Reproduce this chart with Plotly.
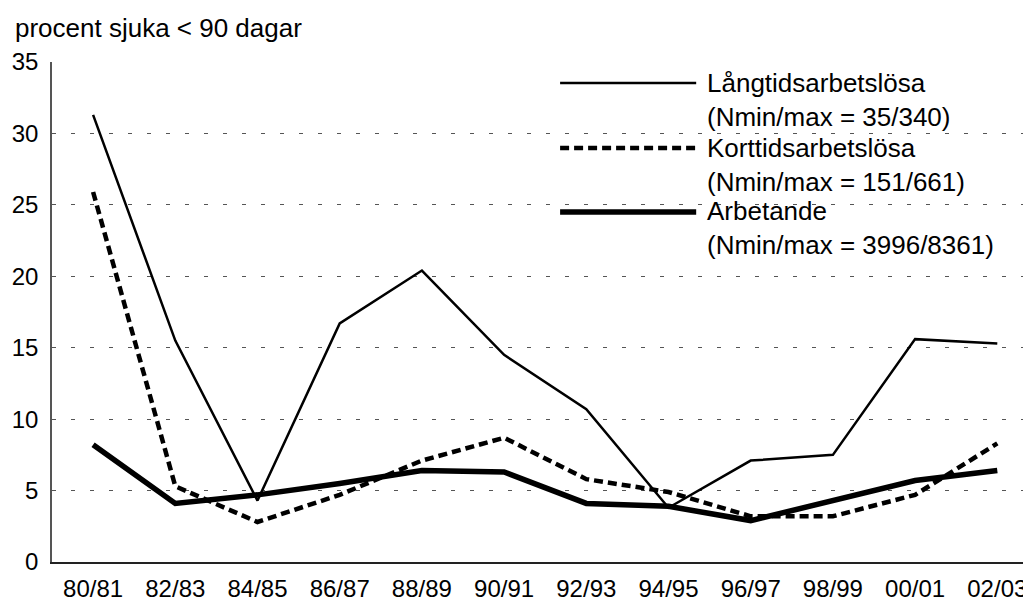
import plotly.graph_objects as go

# Kategorier (år) och värden: procent sjuka < 90 dagar
ar = ["80/81", "82/83", "84/85", "86/87", "88/89", "90/91",
      "92/93", "94/95", "96/97", "98/99", "00/01", "02/03"]
langtid = [31.3, 15.5, 4.3, 16.7, 20.4, 14.5, 10.7, 3.8, 7.1, 7.5, 15.6, 15.3]
korttid = [25.9, 5.3, 2.8, 4.7, 7.1, 8.7, 5.8, 4.9, 3.2, 3.2, 4.7, 8.3]
arbetande = [8.2, 4.1, 4.7, 5.5, 6.4, 6.3, 4.1, 3.9, 2.9, 4.3, 5.7, 6.4]

namn = ["Långtidsarbetslösa<br>(Nmin/max = 35/340)",
        "Korttidsarbetslösa<br>(Nmin/max = 151/661)",
        "Arbetande<br>(Nmin/max = 3996/8361)"]
stilar = [dict(width=2.5, dash="solid"),
          dict(width=4.5, dash="9px,5px"),
          dict(width=5.5, dash="solid")]

FONT = "Liberation Sans, Arial, Helvetica, sans-serif"
xpos = list(range(len(ar)))

fig = go.Figure()
for serie, stil in zip([langtid, korttid, arbetande], stilar):
    fig.add_trace(go.Scatter(x=xpos, y=serie, mode="lines",
                             line=dict(color="black", **stil),
                             showlegend=False, hoverinfo="skip"))

# Egen förklaring (linjeprov + text) till höger uppe i diagrammet
leg_y = [0.958, 0.828, 0.70]
txt_y = [0.923, 0.795, 0.668]
for n, stil, ly, ty in zip(namn, stilar, leg_y, txt_y):
    fig.add_shape(type="line", xref="paper", yref="paper",
                  x0=0.519, x1=0.658, y0=ly, y1=ly,
                  line=dict(color="black", **stil))
    fig.add_annotation(xref="paper", yref="paper", x=0.667, y=ty,
                       xanchor="left", yanchor="middle", align="left",
                       text=n, showarrow=False,
                       font=dict(family=FONT, size=26, color="black"))

# Sidan har 8 px marginal runt diagrammet
fig.update_layout(
    width=1023, height=593,
    margin=dict(l=44, r=0, t=54, b=39),
    plot_bgcolor="white", paper_bgcolor="white",
    font=dict(family=FONT, size=24, color="black"),
    title=dict(text="procent sjuka < 90 dagar", xref="container", yref="container",
               x=0.0068, y=0.966, xanchor="left", yanchor="middle",
               font=dict(family=FONT, size=26, color="black")),
    xaxis=dict(range=[-0.5, 11.41], tickvals=xpos, ticktext=ar,
               showgrid=False, zeroline=False, showline=True,
               linecolor="#222", linewidth=1.5, ticks="", ticklabelstandoff=4,
               automargin=False, ticklabeloverflow="allow"),
    yaxis=dict(range=[0, 35], dtick=5, showgrid=True, gridcolor="#555",
               griddash="4px,15px", gridwidth=1, zeroline=False,
               showline=True, linecolor="#555", linewidth=1.5,
               ticks="", ticklabelstandoff=7, automargin=False),
)

fig.write_html("out.html")
